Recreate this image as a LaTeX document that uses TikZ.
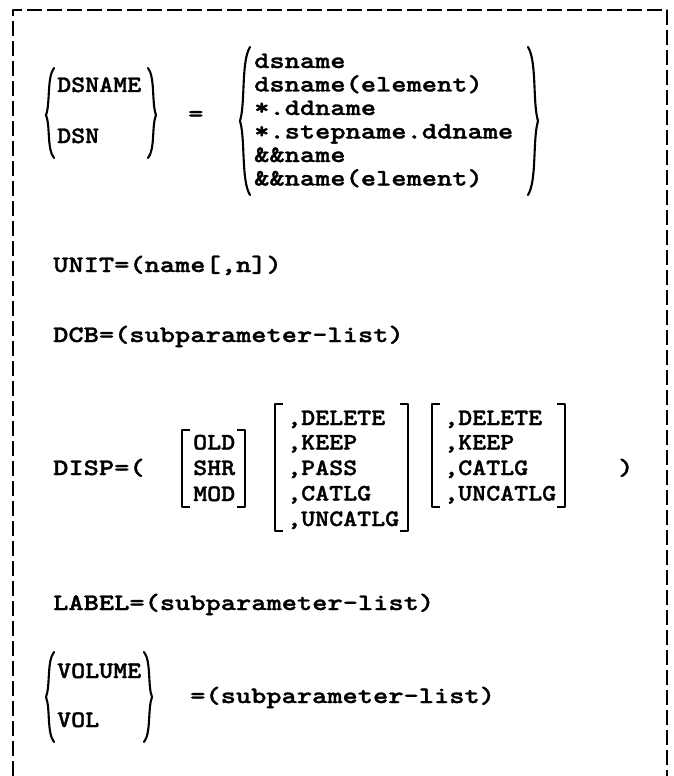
\documentclass[tikz,border=0pt]{standalone}
\usepackage{fontspec}
% heavy typewriter face with slab serifs, widened to a Courier-like pitch
\newfontfamily\jclfont{lmmonolt10-bold.otf}[FakeStretch=1.23, FakeBold=1.3]
\newfontfamily\optfont{lmmonolt10-bold.otf}[FakeStretch=1.13, FakeBold=1.3]
\tikzset{
  jcl/.style={anchor=base west, inner sep=0pt, font=\jclfont\fontsize{23.6}{28}\selectfont},
  opt/.style={anchor=base west, inner sep=0pt, font=\optfont\fontsize{23.6}{28}\selectfont},
  delim/.style={line width=2.1pt, line cap=round, line join=round},
  frame/.style={line width=2.4pt, dash pattern=on 15pt off 5pt, line join=round}
}
% left brace: tip x, top y, tip y, bottom y, width
\newcommand\jclbraceL[5]{%
  \draw[delim] ({#1+#5},#2) .. controls ({#1+0.1*#5},{#2+0.2*(#3-#2)}) and ({#1+0.55*#5},{#3-0.25*(#3-#2)}) .. (#1,#3)
    .. controls ({#1+0.55*#5},{#3+0.25*(#4-#3)}) and ({#1+0.1*#5},{#4-0.2*(#4-#3)}) .. ({#1+#5},#4);}
% right brace: tip x, top y, tip y, bottom y, width
\newcommand\jclbraceR[5]{%
  \draw[delim] ({#1-#5},#2) .. controls ({#1-0.1*#5},{#2+0.2*(#3-#2)}) and ({#1-0.55*#5},{#3-0.25*(#3-#2)}) .. (#1,#3)
    .. controls ({#1-0.55*#5},{#3+0.25*(#4-#3)}) and ({#1-0.1*#5},{#4-0.2*(#4-#3)}) .. ({#1-#5},#4);}
% square brackets: x, top y, bottom y, serif length
\newcommand\jclbrackL[4]{\draw[delim, line cap=butt] ({#1+#4},#2) -- (#1,#2) -- (#1,#3) -- ({#1+#4},#3);}
\newcommand\jclbrackR[4]{\draw[delim, line cap=butt] ({#1-#4},#2) -- (#1,#2) -- (#1,#3) -- ({#1-#4},#3);}
\begin{document}
\begin{tikzpicture}[x=1pt,y=-1pt]
\useasboundingbox (0,0) rectangle (673,776);
\fill[white] (0,0) rectangle (673,776);
% open dashed frame
\draw[frame] (13,776) -- (13,10) -- (667,10) -- (667,776);

% DSNAME / DSN = alternatives
\node[opt] (dsname) at (57,92) {DSNAME};
\node[opt] (dsn) at (57,143) {DSN};
\jclbraceL{46}{68}{115}{158}{8}
\jclbraceR{156}{68}{115}{158}{8}
\node[jcl] (eq) at (188,121) {=};
\node[jcl] (v1) at (254,68) {dsname};
\node[jcl] (v2) at (254,91.5) {dsname(element)};
\node[jcl] (v3) at (254,115) {*.ddname};
\node[jcl] (v4) at (254,138.5) {*.stepname.ddname};
\node[jcl] (v5) at (254,162) {\&\&name};
\node[jcl] (v6) at (254,185.5) {\&\&name(element)};
\jclbraceL{240}{47}{121}{195}{10}
\jclbraceR{538}{47}{121}{195}{10}

% UNIT and DCB
\node[jcl] (unit) at (53,272) {UNIT=(name[,n])};
\node[jcl] (dcb) at (53,342) {DCB=(subparameter-list)};

% DISP
\node[jcl] (disp) at (53,475) {DISP=(};
\node[opt] (old) at (193,449.5) {OLD};
\node[opt] (shr) at (193,475) {SHR};
\node[opt] (mod) at (193,501) {MOD};
\jclbrackL{182}{430}{507}{8}
\jclbrackR{245}{430}{507}{8}
\node[opt] (a1) at (287,425) {,DELETE};
\node[opt] (a2) at (287,449.5) {,KEEP};
\node[opt] (a3) at (287,475) {,PASS};
\node[opt] (a4) at (287,500.5) {,CATLG};
\node[opt] (a5) at (287,526) {,UNCATLG};
\jclbrackL{275}{404}{531}{8}
\jclbrackR{408}{404}{531}{8}
\node[opt] (b1) at (444,425) {,DELETE};
\node[opt] (b2) at (444,449.5) {,KEEP};
\node[opt] (b3) at (444,475) {,CATLG};
\node[opt] (b4) at (444,500.5) {,UNCATLG};
\jclbrackL{432}{404}{507}{8}
\jclbrackR{565}{404}{507}{8}
\node[jcl] (close) at (618,475) {)};

% LABEL
\node[jcl] (label) at (53,610) {LABEL=(subparameter-list)};

% VOLUME / VOL
\node[opt] (volume) at (57,678) {VOLUME};
\node[opt] (vol) at (57,727) {VOL};
\jclbraceL{46}{652}{697}{742}{8}
\jclbraceR{152}{652}{697}{742}{8}
\node[jcl] (volval) at (190,703) {=(subparameter-list)};
\end{tikzpicture}
\end{document}
